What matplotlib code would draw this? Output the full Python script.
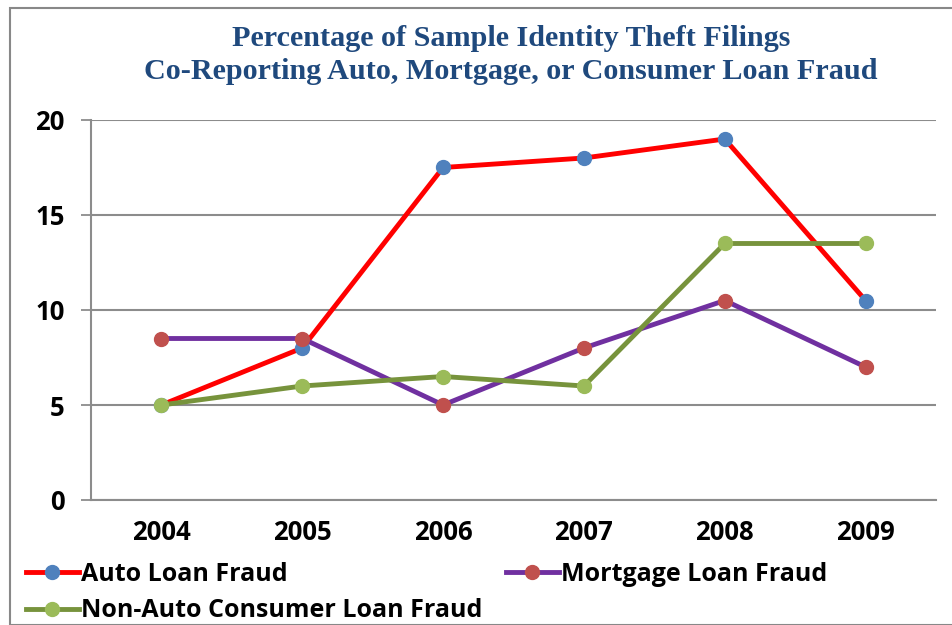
import matplotlib.pyplot as plt
from matplotlib.patches import Rectangle

years = ['2004', '2005', '2006', '2007', '2008', '2009']
auto_loan = [5, 8, 17.5, 18, 19, 10.5]
mortgage_loan = [8.5, 8.5, 5, 8, 10.5, 7]
non_auto_consumer = [5, 6, 6.5, 6, 13.5, 13.5]
y_ticks = [0, 5, 10, 15, 20]

title = ('Percentage of Sample Identity Theft Filings\n'
         'Co-Reporting Auto, Mortgage, or Consumer Loan Fraud')

sans = ['Open Sans', 'DejaVu Sans']

fig = plt.figure(figsize=(9.52, 6.25), dpi=100)
ax = fig.add_axes([91/952, 125/625, 845/952, 380/625])

x = range(len(years))
l1, = ax.plot(x, auto_loan, color='#FF0000', lw=3.5, marker='o', ms=10,
              mfc='#4F81BD', mec='#4F81BD', label='Auto Loan Fraud', zorder=3)
l2, = ax.plot(x, mortgage_loan, color='#7030A0', lw=3.5, marker='o', ms=10,
              mfc='#C0504D', mec='#C0504D', label='Mortgage Loan Fraud', zorder=4)
l3, = ax.plot(x, non_auto_consumer, color='#77933C', lw=3.5, marker='o', ms=10,
              mfc='#9BBB59', mec='#9BBB59', label='Non-Auto Consumer Loan Fraud',
              zorder=5)

ax.set_xlim(-0.5, len(years) - 0.5)
ax.set_ylim(0, 20)
ax.set_xticks(list(x))
ax.set_xticklabels(years, family=sans, fontweight='bold', fontsize=18.5)
ax.set_yticks(y_ticks)
ax.set_yticklabels([str(v) for v in y_ticks], family=sans, fontweight='bold',
                   fontsize=18.5)

ax.tick_params(axis='x', length=0, pad=14)
ax.tick_params(axis='y', length=7, width=1.3, color='#8C8C8C', pad=12)
ax.yaxis.grid(True, color='#8C8C8C', lw=1.5)
ax.set_axisbelow(True)
for side in ['top', 'right']:
    ax.spines[side].set_visible(False)
for side in ['left', 'bottom']:
    ax.spines[side].set_color('#8C8C8C')
    ax.spines[side].set_linewidth(1.5)

fig.text(0.537, 1 - 55/625, title, ha='center', va='center', fontsize=21.7,
         fontweight='bold', family='Liberation Serif', color='#1F497D',
         linespacing=1.32)

leg = fig.legend(handles=[l1, l3, l2], loc='upper left',
                 bbox_to_anchor=(26/952, 1 - 562/625), ncol=2, frameon=False,
                 prop=dict(family=sans, weight='bold', size=18),
                 handlelength=2.1, handletextpad=0.1, columnspacing=0.95,
                 labelspacing=0.45, borderaxespad=0, borderpad=0)

fig.patches.append(Rectangle((10/952, 0), 1.2, 1 - 8/625, transform=fig.transFigure,
                             fill=False, edgecolor='#888888', lw=1.5))

fig.savefig('out.png', dpi=100, facecolor='white')
